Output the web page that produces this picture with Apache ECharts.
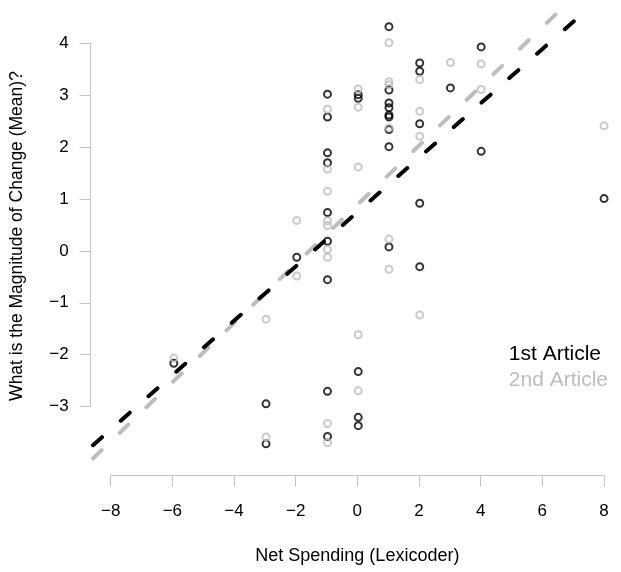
<!DOCTYPE html>
<html>
<head>
<meta charset="utf-8">
<script src="https://cdn.jsdelivr.net/npm/echarts@6/dist/echarts.min.js"></script>
<style>
  html, body { margin: 0; padding: 0; background: #fff; }
  #chart { width: 621px; height: 572px; }
</style>
</head>
<body>
<div id="chart"></div>
<script>
// Net spending score (Lexicoder) vs. mean perceived magnitude of change
const art1X = [-6, -3, -3, -2,
  -1, -1, -1, -1, -1, -1, -1, -1, -1,
  0, 0, 0, 0, 0,
  1, 1, 1, 1, 1, 1, 1, 1, 1,
  2, 2, 2, 2, 2,
  3, 4, 4, 8];
const art1Y = [-2.17, -2.95, -3.72, -0.13,
  3.01, 2.57, 1.88, 1.69, 0.73, 0.18, -0.56, -2.71, -3.58,
  3.00, 2.93, -2.33, -3.21, -3.37,
  4.31, 3.09, 2.84, 2.75, 2.61, 2.57, 2.33, 2.00, 0.07,
  3.61, 3.45, 2.44, 0.91, -0.31,
  3.13, 3.92, 1.91, 1.00];

const art2X = [-6, -3, -3, -2, -2,
  -1, -1, -1, -1, -1, -1, -1, -1, -1,
  0, 0, 0, 0, 0,
  1, 1, 1, 1, 1, 1,
  2, 2, 2, 2,
  3, 4, 4, 8];
const art2Y = [-2.07, -1.32, -3.59, 0.58, -0.49,
  2.72, 1.57, 1.14, 0.57, 0.48, 0.02, -0.13, -3.33, -3.70,
  3.11, 2.76, 1.61, -1.62, -2.70,
  4.00, 3.25, 3.19, 2.36, 0.22, -0.36,
  3.29, 2.68, 2.20, -1.24,
  3.62, 3.59, 3.10, 2.40];

// Fitted lines: [slope, intercept]
const fit1 = [0.5215, 0.755];
const fit2 = [0.5678, 0.898];

const xTicks = [-8, -6, -4, -2, 0, 2, 4, 6, 8];
const yTicks = [-3, -2, -1, 0, 1, 2, 3, 4];

const seriesNames = ['1st Article', '2nd Article'];
const colors = ['#000000', '#bdbdbd'];

// plotting window (data units), slightly wider than the tick range
const xLim = [-8.63, 8.55];
const yLim = [-4.07, 4.63];

const FONT = '"Liberation Sans", Arial, Helvetica, sans-serif';
const AXIS_GRAY = '#c4c4c4';

const zip = (xs, ys) => xs.map((x, i) => [x, ys[i]]);
const fitLine = (f) => [xLim[0], xLim[1]].map(x => [x, f[0] * x + f[1]]);
const minusFmt = (v) => String(v).replace('-', '\u2212');

const chart = echarts.init(document.getElementById('chart'), null, { renderer: 'canvas' });

const pointStyle = (c) => ({
  type: 'scatter',
  symbol: 'circle',
  symbolSize: 7,
  itemStyle: { color: 'rgba(0,0,0,0)', borderColor: c, borderWidth: 2 },
  xAxisIndex: 0, yAxisIndex: 0,
  z: 3
});

const lineStyle = (c) => ({
  type: 'line',
  xAxisIndex: 0, yAxisIndex: 0,
  symbol: 'none',
  clip: true,
  lineStyle: { color: c, width: 4, type: [12, 25], cap: 'round' },
  z: 4
});

chart.setOption({
  animation: false,
  backgroundColor: '#ffffff',
  textStyle: { fontFamily: FONT },
  grid: [
    { left: 91, top: 10, width: 530, height: 452 },            // data window
    { left: 110.7, top: 400, width: 493.3, height: 75.7 },      // x axis strip
    { left: 90.7, top: 43, width: 10, height: 363.7 }          // y axis strip
  ],
  xAxis: [
    { gridIndex: 0, type: 'value', min: xLim[0], max: xLim[1], show: false },
    {
      gridIndex: 1, type: 'value', min: xTicks[0], max: xTicks[xTicks.length - 1], interval: 2,
      axisLine: { show: true, lineStyle: { color: AXIS_GRAY, width: 1 } },
      axisTick: { show: true, inside: false, length: 11, lineStyle: { color: AXIS_GRAY, width: 1 } },
      axisLabel: { color: '#000', fontSize: 17, fontFamily: FONT, margin: 27, formatter: minusFmt },
      splitLine: { show: false },
      name: 'Net Spending (Lexicoder)',
      nameLocation: 'middle',
      nameGap: 71,
      nameTextStyle: { color: '#000', fontSize: 18, fontFamily: FONT }
    },
    { gridIndex: 2, type: 'value', show: false }
  ],
  yAxis: [
    {
      gridIndex: 0, type: 'value', min: yLim[0], max: yLim[1],
      axisLine: { show: false }, axisTick: { show: false }, axisLabel: { show: false },
      splitLine: { show: false },
      name: 'What is the Magnitude of Change (Mean)?',
      nameLocation: 'middle',
      nameGap: 67,
      nameTextStyle: { color: '#000', fontSize: 17.5, fontFamily: FONT }
    },
    { gridIndex: 1, type: 'value', show: false },
    {
      gridIndex: 2, type: 'value', min: yTicks[0], max: yTicks[yTicks.length - 1], interval: 1,
      axisLine: { show: true, lineStyle: { color: AXIS_GRAY, width: 1 } },
      axisTick: { show: true, inside: false, length: 11, lineStyle: { color: AXIS_GRAY, width: 1 } },
      axisLabel: { color: '#000', fontSize: 17, fontFamily: FONT, margin: 22, formatter: minusFmt },
      splitLine: { show: false }
    }
  ],
  legend: {
    orient: 'vertical',
    right: 8,
    top: 338,
    icon: 'none',
    itemWidth: 0,
    itemHeight: 14,
    itemGap: 3,
    selectedMode: false,
    textStyle: { fontSize: 21, fontFamily: FONT, lineHeight: 23 },
    data: [
      { name: seriesNames[0], textStyle: { color: colors[0] } },
      { name: seriesNames[1], textStyle: { color: colors[1] } }
    ]
  },
  series: [
    Object.assign(pointStyle(colors[0]), { name: seriesNames[0], data: zip(art1X, art1Y) }),
    Object.assign(pointStyle(colors[1]), { name: seriesNames[1], data: zip(art2X, art2Y) }),
    Object.assign(lineStyle(colors[1]), { name: 'fit2', data: fitLine(fit2) }),
    Object.assign(lineStyle(colors[0]), { name: 'fit1', data: fitLine(fit1) })
  ]
});
</script>
</body>
</html>
